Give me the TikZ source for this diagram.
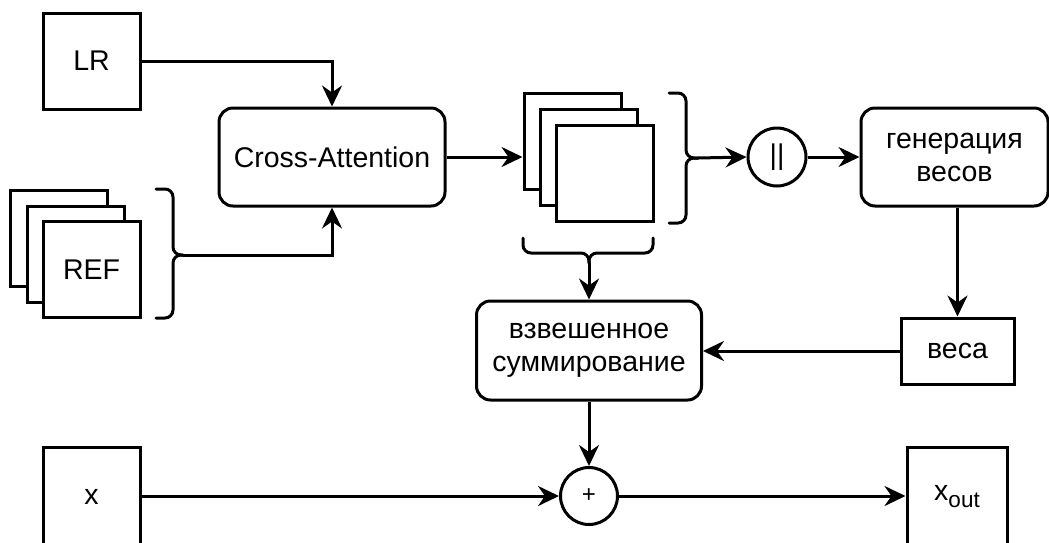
\documentclass[tikz,border=0pt]{standalone}
\usepackage{fontspec}
\setmainfont{Liberation Sans}
\usetikzlibrary{arrows.meta}
\newcommand{\lblfont}{\fontsize{28.5}{33}\selectfont}
\newcommand{\subfont}{\fontsize{22.5}{22.5}\selectfont}
\begin{document}
\begin{tikzpicture}[x=1pt,y=-1pt,
  lw/.style={line width=3pt},
  box/.style={draw, lw, fill=white, inner sep=0pt, align=center, font=\lblfont},
  sqbox/.style={box, minimum width=97pt, minimum height=96pt},
  rbox/.style={box, rounded corners=14pt},
  opnode/.style={draw, lw, fill=white, circle, inner sep=0pt, minimum size=58pt, font=\lblfont},
  arr/.style={lw, -{Stealth[length=21pt,width=20pt,inset=7pt]}},
  brc/.style={lw, rounded corners=8pt, line cap=round}]
  \fill[white] (0,0) rectangle (1049,542);
  \useasboundingbox (0,0) rectangle (1049,542);

  % inputs
  \node[sqbox] (lr) at (91.5,61) {LR};
  \node[sqbox] (ref3) at (59,238) {};
  \node[sqbox] (ref2) at (75.5,254) {};
  \node[sqbox] (ref1) at (91.5,269.5) {REF};

  % cross-attention block
  \node[rbox, minimum width=226pt, minimum height=98pt] (ca) at (332,157) {Cross-Attention};

  % stack of attention outputs
  \node[sqbox] (f3) at (572.5,141) {};
  \node[sqbox] (f2) at (588.5,157) {};
  \node[sqbox] (f1) at (605,173.5) {};

  % concatenation and weight generation
  \node[opnode] (cat) at (777,157) {||};
  \node[rbox, minimum width=187pt, minimum height=98pt] (gen) at (954.5,157) {генерация\\весов};
  \node[box, minimum width=113pt, minimum height=66pt] (w) at (957.5,351) {веса};

  % weighted sum
  \node[rbox, minimum width=225pt, minimum height=99pt] (ws) at (589,350.5) {взвешенное\\суммирование};

  % residual path
  \node[opnode, minimum size=57pt, font=\fontsize{24}{24}\selectfont] (plus) at (589,496) {+};
  \node[box, minimum width=97pt, minimum height=100pt] (x) at (91.5,497) {x};
  \node[box, minimum width=100pt, minimum height=100pt] (xout) at (957,497) {x\raisebox{-7pt}{\subfont out}};

  % braces
  \coordinate (refb) at (183,255);
  \draw[brc] (156,189) -- (173,189) -- (173,255) -- (refb);
  \draw[brc] (156,318) -- (173,318) -- (173,255) -- (refb);

  \coordinate (stb) at (698,158);
  \draw[brc] (669,93) -- (686,93) -- (686,158) -- (stb);
  \draw[brc] (669,223) -- (686,223) -- (686,158) -- (stb);

  \coordinate (bb) at (589,263);
  \draw[brc] (523,238) -- (523,253) -- (589,253) -- (bb);
  \draw[brc] (653,238) -- (653,253) -- (589,253) -- (bb);

  % connectors
  \draw[arr] (lr.east) -| (ca.north);
  \draw[arr] (refb) -| (ca.south);
  \draw[arr] (ca.east) -- (ca.east -| f3.west);
  \draw[arr] (stb) -- (cat.west);
  \draw[arr] (cat.east) -- (gen.west);
  \draw[arr] (gen.south -| w.north) -- (w.north);
  \draw[arr] (w.west) -- (w.west -| ws.east);
  \draw[arr] (bb) -- (ws.north);
  \draw[arr] (ws.south) -- (plus.north);
  \draw[arr] (x.east |- plus.west) -- (plus.west);
  \draw[arr] (plus.east) -- (plus.east -| xout.west);
\end{tikzpicture}
\end{document}
